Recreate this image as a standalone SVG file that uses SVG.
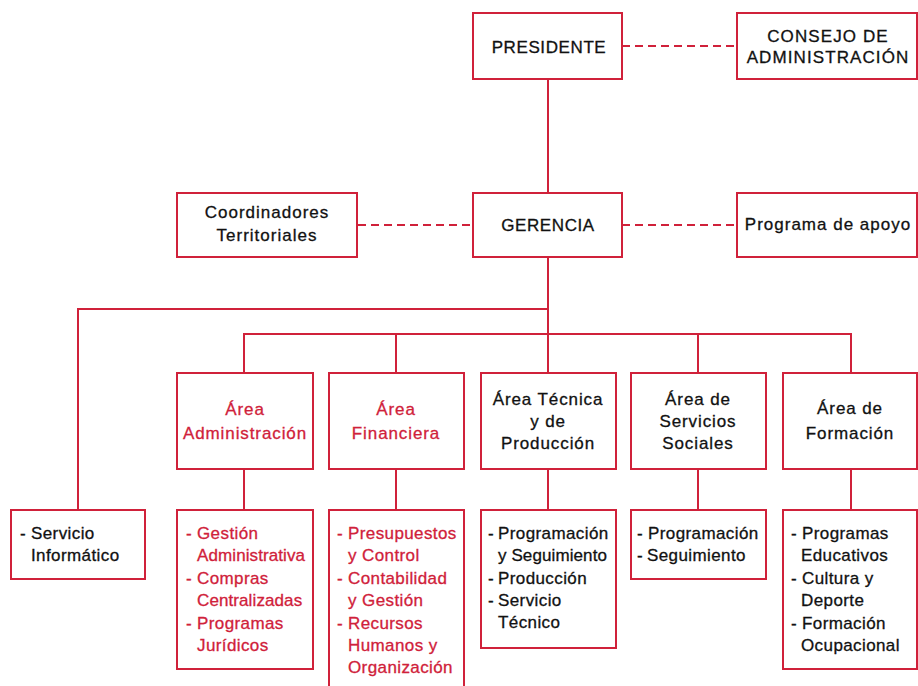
<svg xmlns="http://www.w3.org/2000/svg" width="918" height="686" viewBox="0 0 918 686">
<style>
.box{fill:#fff;stroke:#d0213a;stroke-width:2}
.ln{fill:none;stroke:#d0213a;stroke-width:2}
.dash{fill:none;stroke:#d0213a;stroke-width:2;stroke-dasharray:8 5}
text{font-family:"Liberation Sans",Arial,sans-serif;font-size:17px;fill:#111;stroke:#111;stroke-width:0.3px;letter-spacing:0.4px}
.c{text-anchor:middle}
.r{fill:#d0213a;stroke:#d0213a}
.cap{letter-spacing:0.6px}
.cons{letter-spacing:1.1px}
.wide{letter-spacing:1px}
.ar{letter-spacing:0.9px}
.tight{letter-spacing:0.1px}
</style>
<g id="connectors">
<path class="dash" d="M622 46H737"/>
<path class="dash" d="M358 225H473"/>
<path class="dash" d="M622 225H737"/>
<path class="ln" d="M548 79V193"/>
<path class="ln" d="M548 257V334"/>
<path class="ln" d="M548 309H78V510"/>
<path class="ln" d="M244 373V334H851V373"/>
<path class="ln" d="M396 334V373"/>
<path class="ln" d="M548 334V373"/>
<path class="ln" d="M698 334V373"/>
<path class="ln" d="M244 469V510"/>
<path class="ln" d="M396 469V510"/>
<path class="ln" d="M548 469V510"/>
<path class="ln" d="M698 469V510"/>
<path class="ln" d="M851 469V510"/>
</g>
<g id="presidente">
<rect class="box" x="473" y="13" width="149" height="66"/>
<text class="c cap" x="549" y="53">PRESIDENTE</text>
</g>
<g id="consejo">
<rect class="box" x="737" y="13" width="180" height="66"/>
<text class="c cons" x="828" y="42">CONSEJO DE</text>
<text class="c cons" x="828" y="63">ADMINISTRACIÓN</text>
</g>
<g id="coordinadores">
<rect class="box" x="177" y="193" width="180" height="64"/>
<text class="c wide" x="267" y="218">Coordinadores</text>
<text class="c wide" x="267" y="241">Territoriales</text>
</g>
<g id="gerencia">
<rect class="box" x="473" y="193" width="149" height="64"/>
<text class="c cap" x="548" y="231">GERENCIA</text>
</g>
<g id="programa">
<rect class="box" x="737" y="193" width="180" height="64"/>
<text class="c wide" x="828" y="230">Programa de apoyo</text>
</g>
<g id="area-admin">
<rect class="box" x="177" y="373" width="136" height="96"/>
<text class="c r ar" x="245" y="415">Área</text>
<text class="c r ar" x="245" y="439">Administración</text>
</g>
<g id="area-fin">
<rect class="box" x="329" y="373" width="135" height="96"/>
<text class="c r ar" x="396" y="415">Área</text>
<text class="c r ar" x="396" y="439">Financiera</text>
</g>
<g id="area-tec">
<rect class="box" x="481" y="373" width="135" height="96"/>
<text class="c ar" x="548" y="405">Área Técnica</text>
<text class="c ar" x="548" y="427">y de</text>
<text class="c ar" x="548" y="449">Producción</text>
</g>
<g id="area-soc">
<rect class="box" x="631" y="373" width="135" height="96"/>
<text class="c ar" x="698" y="405">Área de</text>
<text class="c ar" x="698" y="427">Servicios</text>
<text class="c ar" x="698" y="449">Sociales</text>
</g>
<g id="area-form">
<rect class="box" x="783" y="373" width="134" height="96"/>
<text class="c ar" x="850" y="414">Área de</text>
<text class="c ar" x="850" y="439">Formación</text>
</g>
<g id="sub-informatico">
<rect class="box" x="11" y="510" width="134" height="69"/>
<text x="20" y="539">-</text><text x="31" y="539">Servicio</text>
<text x="31" y="561">Informático</text>
</g>
<g id="sub-admin">
<rect class="box" x="177" y="510" width="136" height="159"/>
<text class="r" x="186" y="539">-</text><text class="r" x="197" y="539">Gestión</text>
<text class="r tight" x="197" y="561">Administrativa</text>
<text class="r" x="186" y="584">-</text><text class="r" x="197" y="584">Compras</text>
<text class="r tight" x="197" y="606">Centralizadas</text>
<text class="r" x="186" y="629">-</text><text class="r" x="197" y="629">Programas</text>
<text class="r" x="197" y="651">Jurídicos</text>
</g>
<g id="sub-fin">
<rect class="box" x="329" y="510" width="135" height="200"/>
<text class="r" x="337" y="539">-</text><text class="r" x="348" y="539">Presupuestos</text>
<text class="r" x="348" y="561">y Control</text>
<text class="r" x="337" y="584">-</text><text class="r" x="348" y="584">Contabilidad</text>
<text class="r" x="348" y="606">y Gestión</text>
<text class="r" x="337" y="629">-</text><text class="r" x="348" y="629">Recursos</text>
<text class="r" x="348" y="651">Humanos y</text>
<text class="r" x="348" y="673">Organización</text>
</g>
<g id="sub-tec">
<rect class="box" x="481" y="510" width="135" height="138"/>
<text x="488" y="539">-</text><text x="498" y="539">Programación</text>
<text class="tight" x="498" y="561">y Seguimiento</text>
<text x="488" y="584">-</text><text x="498" y="584">Producción</text>
<text x="488" y="606">-</text><text x="498" y="606">Servicio</text>
<text x="498" y="628">Técnico</text>
</g>
<g id="sub-soc">
<rect class="box" x="631" y="510" width="135" height="69"/>
<text x="637" y="539">-</text><text x="648" y="539">Programación</text>
<text x="637" y="561">-</text><text x="647" y="561">Seguimiento</text>
</g>
<g id="sub-form">
<rect class="box" x="783" y="510" width="134" height="159"/>
<text x="791" y="539">-</text><text x="802" y="539">Programas</text>
<text x="801" y="561">Educativos</text>
<text x="791" y="584">-</text><text x="802" y="584">Cultura y</text>
<text x="801" y="606">Deporte</text>
<text x="791" y="629">-</text><text x="802" y="629">Formación</text>
<text x="801" y="651">Ocupacional</text>
</g>
</svg>
